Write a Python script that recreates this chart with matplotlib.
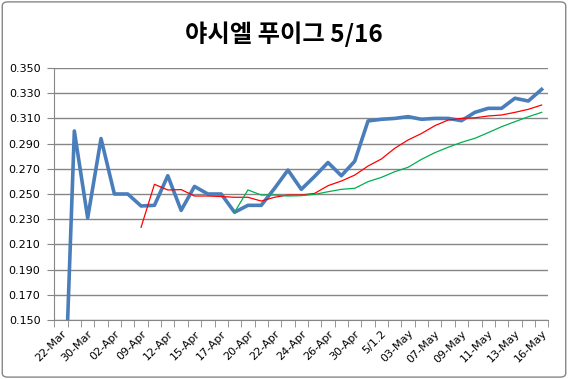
import matplotlib
matplotlib.use('Agg')
import matplotlib.pyplot as plt
from matplotlib.patches import FancyBboxPatch
import numpy as np

plt.rcParams['font.family'] = ['Noto Sans CJK KR', 'DejaVu Sans']

title = '야시엘 푸이그 5/16'

# one label every two categories
tick_labels = ['22-Mar', '30-Mar', '02-Apr', '09-Apr', '12-Apr', '15-Apr', '17-Apr',
               '20-Apr', '22-Apr', '24-Apr', '26-Apr', '30-Apr', '5/1.2', '03-May',
               '07-May', '09-May', '11-May', '13-May', '16-May']

avg = [0.000, 0.300, 0.231, 0.294, 0.250, 0.250, 0.2405, 0.241, 0.2645, 0.237,
       0.256, 0.250, 0.250, 0.2355, 0.241, 0.241, 0.2545, 0.269, 0.2537, 0.264,
       0.275, 0.2645, 0.276, 0.308, 0.3093, 0.310, 0.3114, 0.3093, 0.310, 0.310,
       0.3082, 0.3148, 0.318, 0.318, 0.326, 0.3238, 0.333]

red = [None] * 6 + [0.2236, 0.2577, 0.2532, 0.2535, 0.2484, 0.2484, 0.248, 0.2474,
                    0.2474, 0.2444, 0.2474, 0.2492, 0.2492, 0.2505, 0.2566, 0.2603,
                    0.265, 0.2722, 0.2778, 0.2863, 0.2929, 0.298, 0.3042, 0.3087,
                    0.310, 0.3105, 0.3119, 0.3127, 0.3148, 0.3172, 0.3206]

green = [None] * 13 + [0.2355, 0.2532, 0.2492, 0.2492, 0.2484, 0.2487, 0.2497,
                       0.2518, 0.2537, 0.2545, 0.2598, 0.2632, 0.2677, 0.2712,
                       0.2775, 0.2828, 0.2871, 0.291, 0.2942, 0.2987, 0.3034,
                       0.3074, 0.3113, 0.3148]

n = len(avg)
x = np.arange(n)
red_y = np.array([np.nan if v is None else v for v in red])
green_y = np.array([np.nan if v is None else v for v in green])

fig = plt.figure(figsize=(5.68, 3.79), dpi=100)
ax = fig.add_axes([54.3 / 568, 1 - 320 / 379, 494 / 568, 252 / 379])

border = FancyBboxPatch((0.004, 0.005), 0.992, 0.99, boxstyle='round,pad=0,rounding_size=0.01',
                        transform=fig.transFigure, fill=False, edgecolor='#868686', linewidth=1.0)
fig.patches.append(border)

ax.plot(x, avg, color='#4a7ebb', linewidth=2.6, solid_joinstyle='round', zorder=3)
ax.plot(x, red_y, color='#ff0000', linewidth=0.9, zorder=4)
ax.plot(x, green_y, color='#00b050', linewidth=0.9, zorder=4)

ax.set_xlim(-0.5, n - 0.5)
ax.set_ylim(0.150, 0.350)
yt = np.arange(0.150, 0.3501, 0.020)
ax.set_yticks(yt)
ax.set_yticklabels(['%.3f' % v for v in yt], fontsize=8, family=['DejaVu Sans'])
ax.yaxis.grid(True, color='#868686', linewidth=1.0)
ax.set_axisbelow(True)

ax.set_xticks(np.arange(0, n, 2))
ax.set_xticklabels(tick_labels, rotation=45, ha='right', rotation_mode='anchor',
                   fontsize=8, family=['DejaVu Sans'])
ax.set_xticks(np.arange(-0.5, n, 1), minor=True)
ax.tick_params(axis='x', which='major', length=0, pad=6)
ax.tick_params(axis='x', which='minor', length=5, color='#868686', direction='out')
ax.tick_params(axis='y', length=5, color='#868686', direction='out', pad=5)

for s in ['top', 'right']:
    ax.spines[s].set_visible(False)
for s in ['left', 'bottom']:
    ax.spines[s].set_color('#868686')

fig.text(0.5, 1 - 34 / 379, title, ha='center', va='center', fontsize=17.5, fontweight='bold')

fig.savefig('out.png', dpi=100)
